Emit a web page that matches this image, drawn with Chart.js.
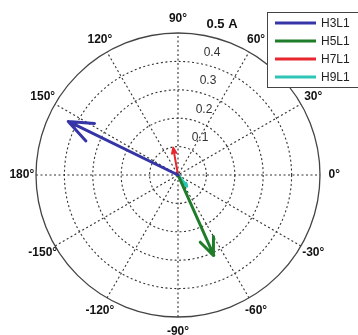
<!DOCTYPE html>
<html>
<head>
<meta charset="utf-8">
<script src="https://cdn.jsdelivr.net/npm/chart.js@4"></script>
<style>
  body { margin: 0; background: #fff; }
  canvas { display: block; }
</style>
</head>
<body>
<canvas id="compass" width="358" height="335"></canvas>
<script>
// harmonic phasors (magnitude in A, angle in degrees)
const seriesNames = ["H3L1", "H5L1", "H7L1", "H9L1"];
const magnitudes = [0.43, 0.31, 0.097, 0.05];
const anglesDeg = [154, -66, 100, -52];
const seriesColors = ["#3535a8", "#1f7d2a", "#e8262e", "#2ec4b6"];
const lineWidths = [3, 3, 2, 3];

const ringValues = [0.1, 0.2, 0.3, 0.4];
const ringLabels = ["0.1", "0.2", "0.3", "0.4"];
const outerLabel = "0.5 A";
const spokeAngles = [0, 30, 60, 90, 120, 150, 180, -150, -120, -90, -60, -30];
const spokeLabels = ["0°", "30°", "60°", "90°", "120°", "150°", "180°", "-150°", "-120°", "-90°", "-60°", "-30°"];
const rMax = 0.5;

const rad = (d) => (d * Math.PI) / 180;

// arrow like matlab compass: shaft + head arms back to 0.8 L, offset 0.08 L
function arrowPoints(m, a) {
  const t = rad(a);
  const pts = [[0, 0], [1, 0], [0.8, 0.08], [1, 0], [0.8, -0.08]];
  return pts.map(([u, v]) => ({
    x: m * (u * Math.cos(t) - v * Math.sin(t)),
    y: m * (u * Math.sin(t) + v * Math.cos(t)),
  }));
}

const polarGrid = {
  id: "polarGrid",
  beforeDatasetsDraw(chart) {
    const { ctx, scales: { x, y } } = chart;
    const cx = x.getPixelForValue(0);
    const cy = y.getPixelForValue(0);
    const px = (v) => x.getPixelForValue(v) - cx;
    ctx.save();

    // dotted rings
    ctx.strokeStyle = "#333";
    ctx.lineWidth = 1.1;
    ctx.setLineDash([2, 2.5]);
    ringValues.forEach((r) => {
      ctx.beginPath();
      ctx.arc(cx, cy, px(r), 0, Math.PI * 2);
      ctx.stroke();
    });
    // dotted spokes
    for (let a = 0; a < 180; a += 30) {
      ctx.beginPath();
      ctx.moveTo(x.getPixelForValue(-rMax * Math.cos(rad(a))), y.getPixelForValue(-rMax * Math.sin(rad(a))));
      ctx.lineTo(x.getPixelForValue(rMax * Math.cos(rad(a))), y.getPixelForValue(rMax * Math.sin(rad(a))));
      ctx.stroke();
    }
    // outer circle
    ctx.setLineDash([]);
    ctx.strokeStyle = "#444";
    ctx.lineWidth = 1.3;
    ctx.beginPath();
    ctx.arc(cx, cy, px(rMax), 0, Math.PI * 2);
    ctx.stroke();

    // angle labels
    ctx.fillStyle = "#111";
    ctx.font = "bold 12px 'Liberation Sans', Arial, sans-serif";
    ctx.textAlign = "center";
    ctx.textBaseline = "middle";
    spokeAngles.forEach((a, i) => {
      const r = rMax * 1.1;
      ctx.fillText(spokeLabels[i], x.getPixelForValue(r * Math.cos(rad(a))), y.getPixelForValue(r * Math.sin(rad(a))));
    });

    // radius labels
    ctx.fillStyle = "#333";
    ctx.font = "12px 'Liberation Sans', Arial, sans-serif";
    ringValues.forEach((r, i) => {
      ctx.fillText(ringLabels[i], cx + 18 + 40 * r, cy - px(r) - 9);
    });
    ctx.fillStyle = "#111";
    ctx.font = "bold 13px 'Liberation Sans', Arial, sans-serif";
    ctx.fillText(outerLabel, cx + 44, cy - px(rMax) - 9);
    ctx.restore();
  },
  afterDraw(chart) {
    const { ctx } = chart;
    ctx.save();
    // legend box
    ctx.fillStyle = "#fff";
    ctx.fillRect(267, 12, 100, 75);
    ctx.strokeStyle = "#444";
    ctx.lineWidth = 1;
    ctx.strokeRect(267.5, 12.5, 100, 75);
    ctx.font = "12px 'Liberation Sans', Arial, sans-serif";
    ctx.textAlign = "left";
    ctx.textBaseline = "middle";
    seriesNames.forEach((name, i) => {
      const yy = 23 + i * 18;
      ctx.strokeStyle = seriesColors[i];
      ctx.lineWidth = 3;
      ctx.beginPath();
      ctx.moveTo(275, yy);
      ctx.lineTo(316, yy);
      ctx.stroke();
      ctx.fillStyle = "#222";
      ctx.fillText(name, 321, yy + 0.5);
    });
    ctx.restore();
  },
};

new Chart(document.getElementById("compass"), {
  type: "scatter",
  data: {
    datasets: seriesNames.map((name, i) => ({
      label: name,
      data: arrowPoints(magnitudes[i], anglesDeg[i]),
      showLine: true,
      borderColor: seriesColors[i],
      borderWidth: lineWidths[i],
      pointRadius: 0,
      borderJoinStyle: "round",
      borderCapStyle: "round",
      tension: 0,
    })),
  },
  options: {
    responsive: false,
    animation: false,
    layout: {
      padding: { left: 36, top: 33, right: 38, bottom: 18 },
    },
    scales: {
      x: { min: -rMax, max: rMax, display: false },
      y: { min: -rMax, max: rMax, display: false },
    },
    plugins: {
      legend: { display: false },
      tooltip: { enabled: false },
    },
  },
  plugins: [polarGrid],
});
</script>
</body>
</html>
